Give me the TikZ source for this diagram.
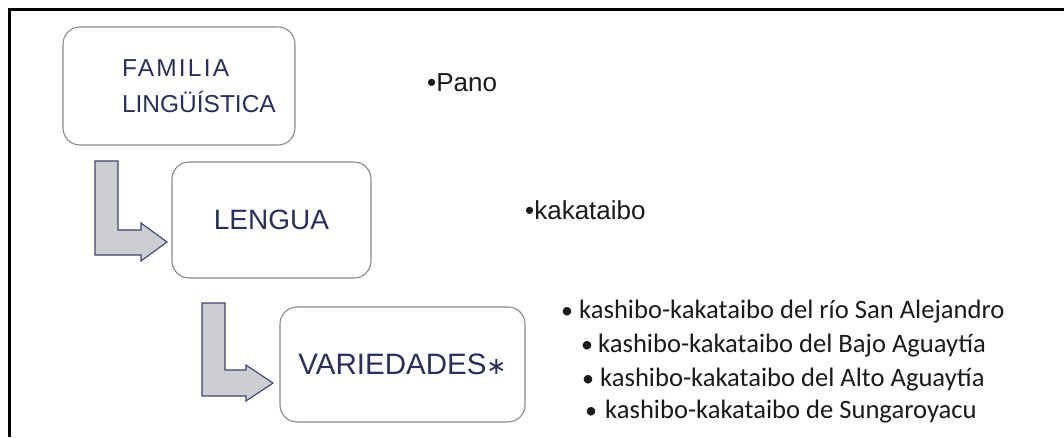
\documentclass[tikz,border=0pt]{standalone}
\usepackage{fontspec}
\setmainfont{Liberation Sans}
\newfontfamily\calib{Carlito}
\newfontfamily\dejavu{DejaVu Sans}
\definecolor{navy}{HTML}{2B2F5E}
\definecolor{boxline}{HTML}{8A8A8A}
\definecolor{arrowfill}{HTML}{CDCED4}
\definecolor{arrowline}{HTML}{3F4270}
\definecolor{ink}{HTML}{1A1A1A}
\begin{document}
\begin{tikzpicture}[x=1pt,y=-1pt,
  levelbox/.style={draw=boxline,line width=1.1pt,rounded corners=17pt,fill=white,inner sep=0pt,text=navy,align=center},
  bentarrow/.style={fill=arrowfill,draw=arrowline,line width=1.1pt,line join=miter},
  infotext/.style={inner sep=0pt,text=ink,anchor=base west,font=\fontsize{26}{30}\selectfont},
  vartext/.style={inner sep=0pt,text=ink,anchor=base west,font=\calib\fontsize{26.6}{30}\selectfont},
  varbullet/.style={inner sep=0pt,text=ink,anchor=base,font=\calib\fontsize{24}{30}\selectfont}]
\useasboundingbox (0,0) rectangle (1064,437);
\fill[white] (0,0) rectangle (1064,437);
% frame
\draw[line width=2.6pt,black] (9.3,437) -- (9.3,9.3) -- (1064,9.3);
% boxes
\node[levelbox,minimum width=232pt,minimum height=118pt,text width=114pt,align=left,font=\fontsize{24.5}{36}\selectfont] (fam) at (179,86) {{\addfontfeature{LetterSpace=9}FAMILIA}\\LINGÜÍSTICA};
\node[levelbox,minimum width=199pt,minimum height=116pt,font=\fontsize{28}{34}\selectfont] (len) at (271.5,220) {LENGUA};
\node[levelbox,minimum width=245pt,minimum height=115pt,font=\fontsize{29.5}{34}\selectfont] (var) at (402.5,364.5) {VARIEDADES{\dejavu\fontsize{24}{26}\selectfont ∗}};
% bent arrows
\draw[bentarrow] (95,161) -- (118,161) -- (118,230) -- (141,230) -- (141,223) -- (167,242) -- (141,261) -- (141,255) -- (95,255) -- cycle;
\draw[bentarrow] (202,303) -- (225,303) -- (225,370) -- (246,370) -- (246,365) -- (273,383) -- (246,401) -- (246,396) -- (202,396) -- cycle;
% info texts
\node[infotext] (pano) at (427,91) {•Pano};
\node[infotext] (kak) at (525,219) {•kakataibo};
% varieties
\node[varbullet] (b1) at (567,318) {•};
\node[vartext] (v1) at (579,318) {kashibo-kakataibo del río San Alejandro};
\node[varbullet] (b2) at (587,352) {•};
\node[vartext] (v2) at (598,352) {kashibo-kakataibo del Bajo Aguaytía};
\node[varbullet] (b3) at (588,386) {•};
\node[vartext] (v3) at (600,386) {kashibo-kakataibo del Alto Aguaytía};
\node[varbullet] (b4) at (591,418) {•};
\node[vartext] (v4) at (605,418) {kashibo-kakataibo de Sungaroyacu};
\end{tikzpicture}
\end{document}
